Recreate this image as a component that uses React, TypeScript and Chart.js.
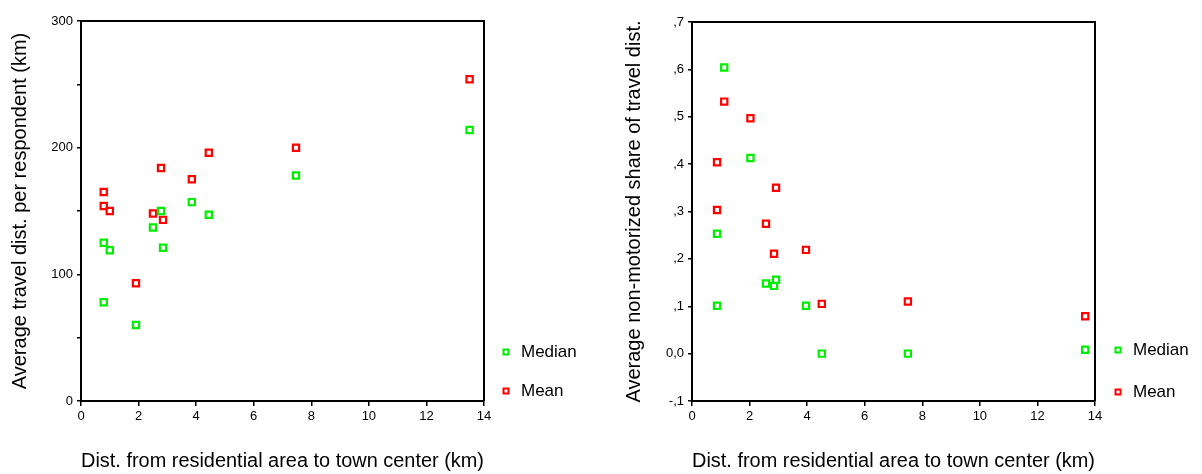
import React, { useEffect, useRef } from "react";
import { Chart, registerables } from "chart.js";

Chart.register(...registerables);

// ---------- data ----------
const seriesNames = ["Median", "Mean"];

// Left panel: average travel distance per respondent (km)
const leftDist = [0.79, 0.79, 1.0, 1.91, 2.5, 2.78, 2.85, 3.85, 4.44, 7.47, 13.5];
const leftMedian = [125, 78, 119, 60, 137, 150, 121, 157, 147, 178, 214];
const leftMean = [165, 154, 150, 93, 148, 184, 143, 175, 196, 200, 254];

// Right panel: average non-motorized share of travel distance
const rightDist = [0.87, 0.87, 1.12, 2.03, 2.57, 2.85, 2.92, 3.96, 4.51, 7.5, 13.66];
const rightMedian = [0.253, 0.101, 0.604, 0.413, 0.148, 0.143, 0.156, 0.101, 0.0, 0.0, 0.008];
const rightMean = [0.404, 0.303, 0.532, 0.497, 0.274, 0.211, 0.35, 0.219, 0.105, 0.11, 0.079];

const xAxisTitle = "Dist. from residential area to town center (km)";
const leftYTitle = "Average travel dist. per respondent (km)";
const rightYTitle = "Average non-motorized share of travel dist.";

// ---------- styles ----------
const FONT = "'Liberation Sans', Arial, Helvetica, sans-serif";
const GREEN = "#00ee00";
const RED = "#ff0000";
const colors = [GREEN, RED];

const toPoints = (xs: number[], ys: number[]) => xs.map((x, i) => ({ x, y: ys[i] }));

const framePlugin = {
  id: "frameBox",
  afterDraw(chart: any) {
    const { ctx, chartArea } = chart;
    ctx.save();
    ctx.strokeStyle = "#000";
    ctx.lineWidth = 2;
    ctx.beginPath();
    ctx.moveTo(chartArea.left, chartArea.top);
    ctx.lineTo(chartArea.right, chartArea.top);
    ctx.lineTo(chartArea.right, chartArea.bottom);
    ctx.stroke();
    ctx.restore();
  },
};

const sideLegendPlugin = {
  id: "sideLegend",
  afterDraw(chart: any, _args: any, opts: any) {
    const { ctx } = chart;
    ctx.save();
    chart.data.datasets.forEach((ds: any, i: number) => {
      const y = opts.ys[i];
      const s = opts.size;
      ctx.fillStyle = "#fff";
      ctx.strokeStyle = ds.borderColor;
      ctx.lineWidth = 2;
      ctx.fillRect(opts.markerX - s / 2, y - s / 2, s, s);
      ctx.strokeRect(opts.markerX - s / 2, y - s / 2, s, s);
      ctx.fillStyle = "#000";
      ctx.font = `${opts.fontSize}px ${FONT}`;
      ctx.textBaseline = "middle";
      ctx.textAlign = "left";
      ctx.fillText(ds.label, opts.textX, y);
    });
    ctx.restore();
  },
};

function makeConfig(opts: {
  xs: number[];
  medians: number[];
  means: number[];
  yMin: number;
  yMax: number;
  yStep: number;
  yLabel: (v: number) => string;
  yTitle: string;
  yAxisWidth: number;
  yTitlePad: number;
  top: number;
  right: number;
  canvasH: number;
  plotBottom: number;
  legend: any;
}) {
  const datasets = [opts.medians, opts.means].map((ys, i) => ({
    label: seriesNames[i],
    data: toPoints(opts.xs, ys),
    pointStyle: "rect",
    pointRadius: 4.4,
    pointBorderWidth: 2.2,
    borderColor: colors[i],
    backgroundColor: "#ffffff",
    pointBackgroundColor: "#ffffff",
    pointBorderColor: colors[i],
    showLine: false,
  }));
  return {
    type: "scatter",
    data: { datasets },
    options: {
      responsive: false,
      animation: false,
      events: [],
      layout: { padding: { top: opts.top, right: opts.right, left: 0, bottom: 0 } },
      plugins: {
        legend: { display: false },
        tooltip: { enabled: false },
        sideLegend: opts.legend,
      },
      scales: {
        x: {
          type: "linear",
          min: 0,
          max: 14,
          ticks: { stepSize: 2, color: "#000", font: { family: FONT, size: 13 }, padding: 3, maxRotation: 0 },
          grid: { drawOnChartArea: false, drawTicks: true, tickLength: 5, color: "#000", lineWidth: 1.5 },
          border: { display: true, color: "#000", width: 2 },
          title: {
            display: true,
            text: xAxisTitle,
            color: "#000",
            font: { family: FONT, size: 20, lineHeight: 1.2 },
            padding: { top: 0, bottom: 1 },
          },
          afterFit(scale: any) {
            scale.height = opts.canvasH - opts.plotBottom;
          },
        },
        y: {
          type: "linear",
          min: opts.yMin,
          max: opts.yMax,
          ticks: {
            stepSize: opts.yStep,
            color: "#000",
            font: { family: FONT, size: 13 },
            padding: 4,
            callback: (v: number) => opts.yLabel(v),
          },
          grid: { drawOnChartArea: false, drawTicks: true, tickLength: 4, color: "#000", lineWidth: 1.5 },
          border: { display: true, color: "#000", width: 2 },
          title: {
            display: true,
            text: opts.yTitle,
            color: "#000",
            font: { family: FONT, size: 20, lineHeight: 1.2 },
            padding: { top: opts.yTitlePad, bottom: 0 },
          },
          afterFit(scale: any) {
            scale.width = opts.yAxisWidth;
          },
        },
      },
    },
    plugins: [framePlugin, sideLegendPlugin],
  };
}

const leftYLabel = (v: number) => {
  const r = Math.round(v);
  return r % 100 === 0 ? String(r) : "";
};

const rightYLabel = (v: number) => {
  const r = Math.round(v * 10);
  if (r === 0) return "0,0";
  return (r < 0 ? "-" : "") + "," + Math.abs(r);
};

export default function App() {
  const leftRef = useRef<HTMLCanvasElement>(null);
  const rightRef = useRef<HTMLCanvasElement>(null);

  useEffect(() => {
    const left = new Chart(
      leftRef.current as HTMLCanvasElement,
      makeConfig({
        xs: leftDist,
        medians: leftMedian,
        means: leftMean,
        yMin: 0,
        yMax: 300,
        yStep: 50,
        yLabel: leftYLabel,
        yTitle: leftYTitle,
        yAxisWidth: 81,
        yTitlePad: 8,
        top: 21,
        right: 600 - 484,
        canvasH: 474,
        plotBottom: 401,
        legend: { markerX: 506, textX: 521, ys: [352, 391], size: 5, fontSize: 17 },
      }) as any
    );
    const right = new Chart(
      rightRef.current as HTMLCanvasElement,
      makeConfig({
        xs: rightDist,
        medians: rightMedian,
        means: rightMean,
        yMin: -0.1,
        yMax: 0.7,
        yStep: 0.1,
        yLabel: rightYLabel,
        yTitle: rightYTitle,
        yAxisWidth: 92,
        yTitlePad: 22,
        top: 22,
        right: 602 - 495,
        canvasH: 474,
        plotBottom: 401,
        legend: { markerX: 518, textX: 533, ys: [350, 392], size: 5, fontSize: 17 },
      }) as any
    );
    return () => {
      left.destroy();
      right.destroy();
    };
  }, []);

  return (
    <div style={{ position: "absolute", left: 0, top: 0, width: 1202, height: 474, background: "#fff" }}>
      <canvas ref={leftRef} width={600} height={474} style={{ position: "absolute", left: 0, top: 0, width: 600, height: 474 }} />
      <canvas ref={rightRef} width={602} height={474} style={{ position: "absolute", left: 600, top: 0, width: 602, height: 474 }} />
    </div>
  );
}
